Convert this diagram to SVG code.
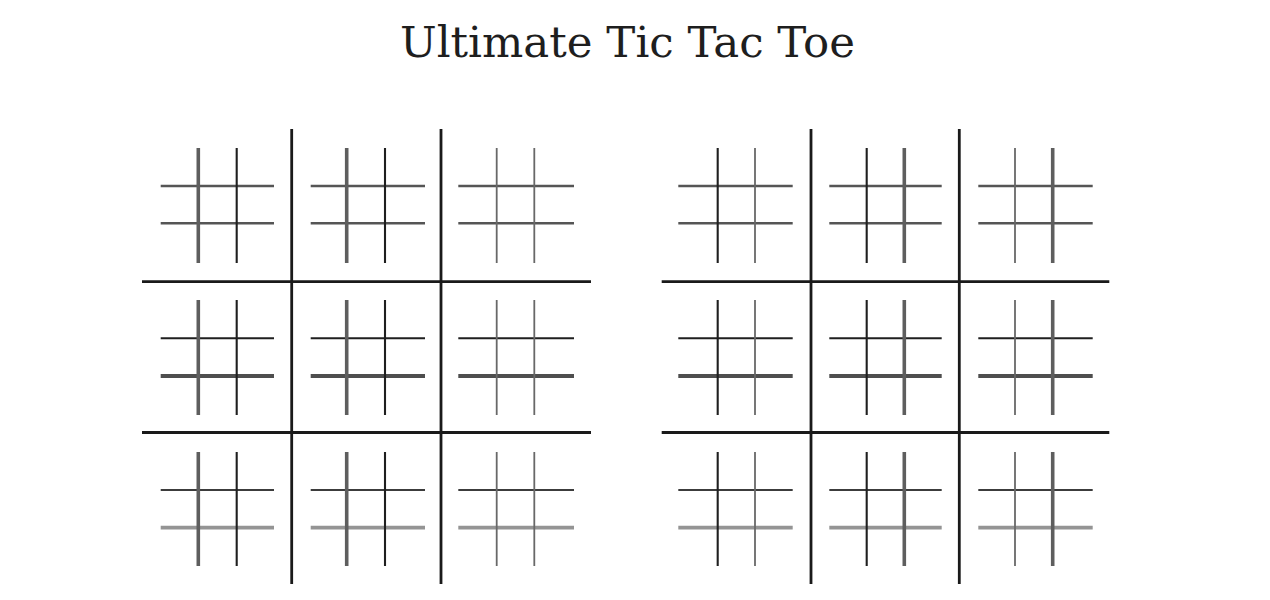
<svg xmlns="http://www.w3.org/2000/svg" width="1270" height="600" viewBox="0 0 1270 600">
<style>
line{fill:none;stroke-linecap:butt}
.big{stroke:#1a1a1a;stroke-width:2.8}
.vg{stroke:#5e5e5e;stroke-width:3.6}
.vd{stroke:#1f1f1f;stroke-width:2.1}
.vl{stroke:#686868;stroke-width:1.8}
.hm{stroke:#555;stroke-width:2.4}
.hd{stroke:#1f1f1f;stroke-width:2.1}
.hg{stroke:#4e4e4e;stroke-width:4}
.hb{stroke:#3c3c3c;stroke-width:2.1}
.hl{stroke:#949494;stroke-width:3.8}
.title{font-family:"DejaVu Serif","Liberation Serif",serif;font-size:43px;fill:#1e1e1e}
</style>
<rect width="1270" height="600" fill="#fff"/>
<text id="title" class="title" x="400" y="57" textLength="455" lengthAdjust="spacingAndGlyphs">Ultimate Tic Tac Toe</text>

<g id="board-left">
  <g id="left-big-grid">
    <line class="big" x1="291.7" y1="129" x2="291.7" y2="584"/>
    <line class="big" x1="441" y1="129" x2="441" y2="584"/>
    <line class="big" x1="142" y1="281.7" x2="591" y2="281.7"/>
    <line class="big" x1="142" y1="432.5" x2="591" y2="432.5"/>
  </g>
  <!-- row 0 -->
  <g id="L00">
    <line class="hm" x1="160.7" y1="186" x2="274" y2="186"/><line class="hm" x1="160.7" y1="223.3" x2="274" y2="223.3"/>
    <line class="vg" x1="198.3" y1="148" x2="198.3" y2="263"/><line class="vd" x1="236.7" y1="148" x2="236.7" y2="263"/>
  </g>
  <g id="L01">
    <line class="hm" x1="310.7" y1="186" x2="425" y2="186"/><line class="hm" x1="310.7" y1="223.3" x2="425" y2="223.3"/>
    <line class="vg" x1="346.7" y1="148" x2="346.7" y2="263"/><line class="vd" x1="385" y1="148" x2="385" y2="263"/>
  </g>
  <g id="L02">
    <line class="hm" x1="458.3" y1="186" x2="574" y2="186"/><line class="hm" x1="458.3" y1="223.3" x2="574" y2="223.3"/>
    <line class="vl" x1="496.7" y1="148" x2="496.7" y2="263"/><line class="vl" x1="534.3" y1="148" x2="534.3" y2="263"/>
  </g>
  <!-- row 1 -->
  <g id="L10">
    <line class="hd" x1="160.7" y1="338.3" x2="274" y2="338.3"/><line class="hg" x1="160.7" y1="376" x2="274" y2="376"/>
    <line class="vg" x1="198.3" y1="300" x2="198.3" y2="415"/><line class="vd" x1="236.7" y1="300" x2="236.7" y2="415"/>
  </g>
  <g id="L11">
    <line class="hd" x1="310.7" y1="338.3" x2="425" y2="338.3"/><line class="hg" x1="310.7" y1="376" x2="425" y2="376"/>
    <line class="vg" x1="346.7" y1="300" x2="346.7" y2="415"/><line class="vd" x1="385" y1="300" x2="385" y2="415"/>
  </g>
  <g id="L12">
    <line class="hd" x1="458.3" y1="338.3" x2="574" y2="338.3"/><line class="hg" x1="458.3" y1="376" x2="574" y2="376"/>
    <line class="vl" x1="496.7" y1="300" x2="496.7" y2="415"/><line class="vl" x1="534.3" y1="300" x2="534.3" y2="415"/>
  </g>
  <!-- row 2 -->
  <g id="L20">
    <line class="hb" x1="160.7" y1="490" x2="274" y2="490"/><line class="hl" x1="160.7" y1="527.7" x2="274" y2="527.7"/>
    <line class="vg" x1="198.3" y1="452" x2="198.3" y2="566"/><line class="vd" x1="236.7" y1="452" x2="236.7" y2="566"/>
  </g>
  <g id="L21">
    <line class="hb" x1="310.7" y1="490" x2="425" y2="490"/><line class="hl" x1="310.7" y1="527.7" x2="425" y2="527.7"/>
    <line class="vg" x1="346.7" y1="452" x2="346.7" y2="566"/><line class="vd" x1="385" y1="452" x2="385" y2="566"/>
  </g>
  <g id="L22">
    <line class="hb" x1="458.3" y1="490" x2="574" y2="490"/><line class="hl" x1="458.3" y1="527.7" x2="574" y2="527.7"/>
    <line class="vl" x1="496.7" y1="452" x2="496.7" y2="566"/><line class="vl" x1="534.3" y1="452" x2="534.3" y2="566"/>
  </g>
</g>

<g id="board-right">
  <g id="right-big-grid">
    <line class="big" x1="811" y1="129" x2="811" y2="584"/>
    <line class="big" x1="959.3" y1="129" x2="959.3" y2="584"/>
    <line class="big" x1="661.7" y1="281.7" x2="1109.3" y2="281.7"/>
    <line class="big" x1="661.7" y1="432.5" x2="1109.3" y2="432.5"/>
  </g>
  <!-- row 0 -->
  <g id="R00">
    <line class="hm" x1="678.3" y1="186" x2="792.7" y2="186"/><line class="hm" x1="678.3" y1="223.3" x2="792.7" y2="223.3"/>
    <line class="vd" x1="717.7" y1="148" x2="717.7" y2="263"/><line class="vl" x1="755" y1="148" x2="755" y2="263"/>
  </g>
  <g id="R01">
    <line class="hm" x1="829.3" y1="186" x2="941.7" y2="186"/><line class="hm" x1="829.3" y1="223.3" x2="941.7" y2="223.3"/>
    <line class="vd" x1="866.7" y1="148" x2="866.7" y2="263"/><line class="vg" x1="904.3" y1="148" x2="904.3" y2="263"/>
  </g>
  <g id="R02">
    <line class="hm" x1="978.3" y1="186" x2="1092.7" y2="186"/><line class="hm" x1="978.3" y1="223.3" x2="1092.7" y2="223.3"/>
    <line class="vl" x1="1015" y1="148" x2="1015" y2="263"/><line class="vg" x1="1052.7" y1="148" x2="1052.7" y2="263"/>
  </g>
  <!-- row 1 -->
  <g id="R10">
    <line class="hd" x1="678.3" y1="338.3" x2="792.7" y2="338.3"/><line class="hg" x1="678.3" y1="376" x2="792.7" y2="376"/>
    <line class="vd" x1="717.7" y1="300" x2="717.7" y2="415"/><line class="vl" x1="755" y1="300" x2="755" y2="415"/>
  </g>
  <g id="R11">
    <line class="hd" x1="829.3" y1="338.3" x2="941.7" y2="338.3"/><line class="hg" x1="829.3" y1="376" x2="941.7" y2="376"/>
    <line class="vd" x1="866.7" y1="300" x2="866.7" y2="415"/><line class="vg" x1="904.3" y1="300" x2="904.3" y2="415"/>
  </g>
  <g id="R12">
    <line class="hd" x1="978.3" y1="338.3" x2="1092.7" y2="338.3"/><line class="hg" x1="978.3" y1="376" x2="1092.7" y2="376"/>
    <line class="vl" x1="1015" y1="300" x2="1015" y2="415"/><line class="vg" x1="1052.7" y1="300" x2="1052.7" y2="415"/>
  </g>
  <!-- row 2 -->
  <g id="R20">
    <line class="hb" x1="678.3" y1="490" x2="792.7" y2="490"/><line class="hl" x1="678.3" y1="527.7" x2="792.7" y2="527.7"/>
    <line class="vd" x1="717.7" y1="452" x2="717.7" y2="566"/><line class="vl" x1="755" y1="452" x2="755" y2="566"/>
  </g>
  <g id="R21">
    <line class="hb" x1="829.3" y1="490" x2="941.7" y2="490"/><line class="hl" x1="829.3" y1="527.7" x2="941.7" y2="527.7"/>
    <line class="vd" x1="866.7" y1="452" x2="866.7" y2="566"/><line class="vg" x1="904.3" y1="452" x2="904.3" y2="566"/>
  </g>
  <g id="R22">
    <line class="hb" x1="978.3" y1="490" x2="1092.7" y2="490"/><line class="hl" x1="978.3" y1="527.7" x2="1092.7" y2="527.7"/>
    <line class="vl" x1="1015" y1="452" x2="1015" y2="566"/><line class="vg" x1="1052.7" y1="452" x2="1052.7" y2="566"/>
  </g>
</g>
</svg>
